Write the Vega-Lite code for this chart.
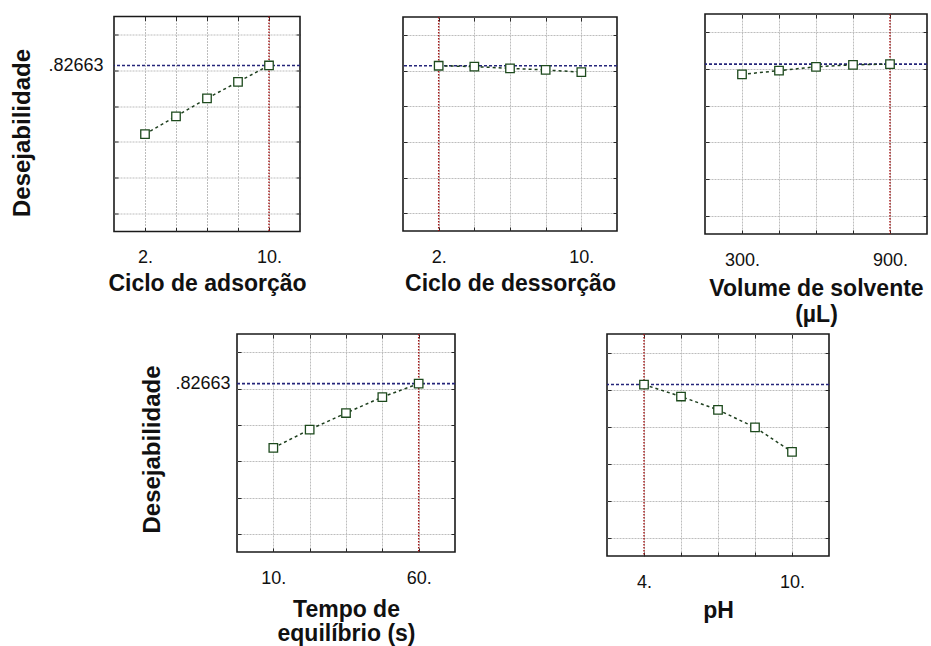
{
  "$schema": "https://vega.github.io/schema/vega-lite/v6.json",
  "background": "white",
  "padding": {"left": 10, "top": 12, "right": 2, "bottom": 2},
  "datasets": {
    "curves": [
      {"panel": "A", "x": 2, "d": 0.444},
      {"panel": "A", "x": 4, "d": 0.543},
      {"panel": "A", "x": 6, "d": 0.643},
      {"panel": "A", "x": 8, "d": 0.735},
      {"panel": "A", "x": 10, "d": 0.82663},
      {"panel": "B", "x": 2, "d": 0.82663},
      {"panel": "B", "x": 4, "d": 0.822},
      {"panel": "B", "x": 6, "d": 0.812},
      {"panel": "B", "x": 8, "d": 0.803},
      {"panel": "B", "x": 10, "d": 0.791},
      {"panel": "C", "x": 300, "d": 0.771},
      {"panel": "C", "x": 450, "d": 0.791},
      {"panel": "C", "x": 600, "d": 0.812},
      {"panel": "C", "x": 750, "d": 0.823},
      {"panel": "C", "x": 900, "d": 0.82663},
      {"panel": "D", "x": 10, "d": 0.473},
      {"panel": "D", "x": 22.5, "d": 0.574},
      {"panel": "D", "x": 35, "d": 0.665},
      {"panel": "D", "x": 47.5, "d": 0.753},
      {"panel": "D", "x": 60, "d": 0.82663},
      {"panel": "E", "x": 4, "d": 0.82663},
      {"panel": "E", "x": 5.5, "d": 0.762},
      {"panel": "E", "x": 7, "d": 0.69},
      {"panel": "E", "x": 8.5, "d": 0.595},
      {"panel": "E", "x": 10, "d": 0.463}
    ],
    "optima": [
      {"panel": "A", "xopt": 10, "dopt": 0.82663},
      {"panel": "B", "xopt": 2, "dopt": 0.82663},
      {"panel": "C", "xopt": 900, "dopt": 0.82663},
      {"panel": "D", "xopt": 60, "dopt": 0.82663},
      {"panel": "E", "xopt": 4, "dopt": 0.82663}
    ]
  },
  "spacing": 5,
  "vconcat": [
    {
      "spacing": 0,
      "bounds": "flush",
      "center": true,
      "hconcat": [
        {
          "width": 186, "height": 215,
          "resolve": {"axis": {"x": "independent", "y": "independent"}},
          "layer": [
            {"data": {"name": "optima"}, "transform": [{"filter": "datum.panel == 'A'"}],
             "mark": {"type": "rule", "color": "#a31515", "strokeDash": [1.5, 1.5], "strokeWidth": 1.4},
             "encoding": {"x": {"field": "xopt", "type": "quantitative", "scale": {"domain": [0, 12], "nice": false, "zero": false}, "axis": null}}},
            {"data": {"name": "optima"}, "transform": [{"filter": "datum.panel == 'A'"}],
             "mark": {"type": "rule", "color": "#25257a", "strokeDash": [3, 2], "strokeWidth": 1.6},
             "encoding": {"y": {"field": "dopt", "type": "quantitative", "scale": {"domain": [-0.1, 1.1], "nice": false, "zero": false}, "axis": null}}},
            {"data": {"name": "curves"}, "transform": [{"filter": "datum.panel == 'A'"}],
             "mark": {"type": "line", "color": "#1e3f1e", "strokeDash": [3, 3], "strokeWidth": 1.5},
             "encoding": {
               "x": {"field": "x", "type": "quantitative", "scale": {"domain": [0, 12], "nice": false, "zero": false},
                     "axis": {"orient": "bottom", "grid": true, "values": [2, 4, 6, 8, 10], "labelExpr": "datum.value == 2 || datum.value == 10 ? datum.value + '.' : ''", "title": "Ciclo de adsorção", "titlePadding": 6}},
               "y": {"field": "d", "type": "quantitative", "scale": {"domain": [-0.1, 1.1], "nice": false, "zero": false},
                     "axis": {"orient": "left", "grid": true, "values": [0, 0.2, 0.4, 0.6, 0.8, 0.82663, 1], "labelExpr": "datum.value == 0.82663 ? '.82663' : ''",
                              "gridOpacity": {"condition": {"test": "datum.value == 0.82663", "value": 0}, "value": 1},
                              "tickOpacity": {"condition": {"test": "datum.value == 0.82663", "value": 0}, "value": 1},
                              "title": "Desejabilidade", "titleFontSize": 24, "titleY": 116, "labelPadding": 15, "titlePadding": 13}}
             }},
            {"data": {"name": "curves"}, "transform": [{"filter": "datum.panel == 'A'"}],
             "mark": {"type": "point", "shape": "square", "filled": true, "fill": "white", "stroke": "#1d4a1d", "strokeWidth": 1.3, "size": 72, "opacity": 1},
             "encoding": {
               "x": {"field": "x", "type": "quantitative", "scale": {"domain": [0, 12], "nice": false, "zero": false},
                     "axis": {"orient": "top", "values": [2, 4, 6, 8, 10], "labels": false, "grid": false, "title": null}},
               "y": {"field": "d", "type": "quantitative", "scale": {"domain": [-0.1, 1.1], "nice": false, "zero": false},
                     "axis": {"orient": "right", "values": [0, 0.2, 0.4, 0.6, 0.8, 1], "labels": false, "grid": false, "title": null}}
             }}
          ]
        },
        {"width": 103, "height": 1, "view": {"stroke": null}, "data": {"values": []}, "mark": "point"},
        {
          "width": 214, "height": 214,
          "resolve": {"axis": {"x": "independent", "y": "independent"}},
          "layer": [
            {"data": {"name": "optima"}, "transform": [{"filter": "datum.panel == 'B'"}],
             "mark": {"type": "rule", "color": "#a31515", "strokeDash": [1.5, 1.5], "strokeWidth": 1.4},
             "encoding": {"x": {"field": "xopt", "type": "quantitative", "scale": {"domain": [0, 12], "nice": false, "zero": false}, "axis": null}}},
            {"data": {"name": "optima"}, "transform": [{"filter": "datum.panel == 'B'"}],
             "mark": {"type": "rule", "color": "#25257a", "strokeDash": [3, 2], "strokeWidth": 1.6},
             "encoding": {"y": {"field": "dopt", "type": "quantitative", "scale": {"domain": [-0.1, 1.1], "nice": false, "zero": false}, "axis": null}}},
            {"data": {"name": "curves"}, "transform": [{"filter": "datum.panel == 'B'"}],
             "mark": {"type": "line", "color": "#1e3f1e", "strokeDash": [3, 3], "strokeWidth": 1.5},
             "encoding": {
               "x": {"field": "x", "type": "quantitative", "scale": {"domain": [0, 12], "nice": false, "zero": false},
                     "axis": {"orient": "bottom", "grid": true, "values": [2, 4, 6, 8, 10], "labelExpr": "datum.value == 2 || datum.value == 10 ? datum.value + '.' : ''", "title": "Ciclo de dessorção", "titlePadding": 6}},
               "y": {"field": "d", "type": "quantitative", "scale": {"domain": [-0.1, 1.1], "nice": false, "zero": false},
                     "axis": {"orient": "left", "grid": true, "values": [0, 0.2, 0.4, 0.6, 0.8, 1], "labels": false, "title": null}}
             }},
            {"data": {"name": "curves"}, "transform": [{"filter": "datum.panel == 'B'"}],
             "mark": {"type": "point", "shape": "square", "filled": true, "fill": "white", "stroke": "#1d4a1d", "strokeWidth": 1.3, "size": 72, "opacity": 1},
             "encoding": {
               "x": {"field": "x", "type": "quantitative", "scale": {"domain": [0, 12], "nice": false, "zero": false},
                     "axis": {"orient": "top", "values": [2, 4, 6, 8, 10], "labels": false, "grid": false, "title": null}},
               "y": {"field": "d", "type": "quantitative", "scale": {"domain": [-0.1, 1.1], "nice": false, "zero": false},
                     "axis": {"orient": "right", "values": [0, 0.2, 0.4, 0.6, 0.8, 1], "labels": false, "grid": false, "title": null}}
             }}
          ]
        },
        {"width": 88, "height": 1, "view": {"stroke": null}, "data": {"values": []}, "mark": "point"},
        {
          "width": 222, "height": 220,
          "resolve": {"axis": {"x": "independent", "y": "independent"}},
          "layer": [
            {"data": {"name": "optima"}, "transform": [{"filter": "datum.panel == 'C'"}],
             "mark": {"type": "rule", "color": "#a31515", "strokeDash": [1.5, 1.5], "strokeWidth": 1.4},
             "encoding": {"x": {"field": "xopt", "type": "quantitative", "scale": {"domain": [150, 1050], "nice": false, "zero": false}, "axis": null}}},
            {"data": {"name": "optima"}, "transform": [{"filter": "datum.panel == 'C'"}],
             "mark": {"type": "rule", "color": "#25257a", "strokeDash": [3, 2], "strokeWidth": 1.6},
             "encoding": {"y": {"field": "dopt", "type": "quantitative", "scale": {"domain": [-0.1, 1.1], "nice": false, "zero": false}, "axis": null}}},
            {"data": {"name": "curves"}, "transform": [{"filter": "datum.panel == 'C'"}],
             "mark": {"type": "line", "color": "#1e3f1e", "strokeDash": [3, 3], "strokeWidth": 1.5},
             "encoding": {
               "x": {"field": "x", "type": "quantitative", "scale": {"domain": [150, 1050], "nice": false, "zero": false},
                     "axis": {"orient": "bottom", "grid": true, "values": [300, 450, 600, 750, 900], "labelExpr": "datum.value == 300 || datum.value == 900 ? datum.value + '.' : ''", "title": ["Volume de solvente", "(µL)"], "titlePadding": 8}},
               "y": {"field": "d", "type": "quantitative", "scale": {"domain": [-0.1, 1.1], "nice": false, "zero": false},
                     "axis": {"orient": "left", "grid": true, "values": [0, 0.2, 0.4, 0.6, 0.8, 1], "labels": false, "title": null}}
             }},
            {"data": {"name": "curves"}, "transform": [{"filter": "datum.panel == 'C'"}],
             "mark": {"type": "point", "shape": "square", "filled": true, "fill": "white", "stroke": "#1d4a1d", "strokeWidth": 1.3, "size": 72, "opacity": 1},
             "encoding": {
               "x": {"field": "x", "type": "quantitative", "scale": {"domain": [150, 1050], "nice": false, "zero": false},
                     "axis": {"orient": "top", "values": [300, 450, 600, 750, 900], "labels": false, "grid": false, "title": null}},
               "y": {"field": "d", "type": "quantitative", "scale": {"domain": [-0.1, 1.1], "nice": false, "zero": false},
                     "axis": {"orient": "right", "values": [0, 0.2, 0.4, 0.6, 0.8, 1], "labels": false, "grid": false, "title": null}}
             }}
          ]
        }
      ]
    },
    {
      "spacing": 0,
      "bounds": "flush",
      "hconcat": [
        {"width": 123, "height": 1, "view": {"stroke": null}, "data": {"values": []}, "mark": "point"},
        {
          "width": 218, "height": 218,
          "resolve": {"axis": {"x": "independent", "y": "independent"}},
          "layer": [
            {"data": {"name": "optima"}, "transform": [{"filter": "datum.panel == 'D'"}],
             "mark": {"type": "rule", "color": "#a31515", "strokeDash": [1.5, 1.5], "strokeWidth": 1.4},
             "encoding": {"x": {"field": "xopt", "type": "quantitative", "scale": {"domain": [-2.5, 72.5], "nice": false, "zero": false}, "axis": null}}},
            {"data": {"name": "optima"}, "transform": [{"filter": "datum.panel == 'D'"}],
             "mark": {"type": "rule", "color": "#25257a", "strokeDash": [3, 2], "strokeWidth": 1.6},
             "encoding": {"y": {"field": "dopt", "type": "quantitative", "scale": {"domain": [-0.1, 1.1], "nice": false, "zero": false}, "axis": null}}},
            {"data": {"name": "curves"}, "transform": [{"filter": "datum.panel == 'D'"}],
             "mark": {"type": "line", "color": "#1e3f1e", "strokeDash": [3, 3], "strokeWidth": 1.5},
             "encoding": {
               "x": {"field": "x", "type": "quantitative", "scale": {"domain": [-2.5, 72.5], "nice": false, "zero": false},
                     "axis": {"orient": "bottom", "grid": true, "values": [10, 22.5, 35, 47.5, 60], "labelExpr": "datum.value == 10 || datum.value == 60 ? datum.value + '.' : ''", "title": ["Tempo de", "equilíbrio (s)"], "titlePadding": 11, "titleLineHeight": 24}},
               "y": {"field": "d", "type": "quantitative", "scale": {"domain": [-0.1, 1.1], "nice": false, "zero": false},
                     "axis": {"orient": "left", "grid": true, "values": [0, 0.2, 0.4, 0.6, 0.8, 0.82663, 1], "labelExpr": "datum.value == 0.82663 ? '.82663' : ''",
                              "gridOpacity": {"condition": {"test": "datum.value == 0.82663", "value": 0}, "value": 1},
                              "tickOpacity": {"condition": {"test": "datum.value == 0.82663", "value": 0}, "value": 1},
                              "title": "Desejabilidade", "titleFontSize": 24, "titleY": 115, "labelPadding": 11, "titlePadding": 10}}
             }},
            {"data": {"name": "curves"}, "transform": [{"filter": "datum.panel == 'D'"}],
             "mark": {"type": "point", "shape": "square", "filled": true, "fill": "white", "stroke": "#1d4a1d", "strokeWidth": 1.3, "size": 72, "opacity": 1},
             "encoding": {
               "x": {"field": "x", "type": "quantitative", "scale": {"domain": [-2.5, 72.5], "nice": false, "zero": false},
                     "axis": {"orient": "top", "values": [10, 22.5, 35, 47.5, 60], "labels": false, "grid": false, "title": null}},
               "y": {"field": "d", "type": "quantitative", "scale": {"domain": [-0.1, 1.1], "nice": false, "zero": false},
                     "axis": {"orient": "right", "values": [0, 0.2, 0.4, 0.6, 0.8, 1], "labels": false, "grid": false, "title": null}}
             }}
          ]
        },
        {"width": 152, "height": 1, "view": {"stroke": null}, "data": {"values": []}, "mark": "point"},
        {
          "width": 222, "height": 222,
          "resolve": {"axis": {"x": "independent", "y": "independent"}},
          "layer": [
            {"data": {"name": "optima"}, "transform": [{"filter": "datum.panel == 'E'"}],
             "mark": {"type": "rule", "color": "#a31515", "strokeDash": [1.5, 1.5], "strokeWidth": 1.4},
             "encoding": {"x": {"field": "xopt", "type": "quantitative", "scale": {"domain": [2.5, 11.5], "nice": false, "zero": false}, "axis": null}}},
            {"data": {"name": "optima"}, "transform": [{"filter": "datum.panel == 'E'"}],
             "mark": {"type": "rule", "color": "#25257a", "strokeDash": [3, 2], "strokeWidth": 1.6},
             "encoding": {"y": {"field": "dopt", "type": "quantitative", "scale": {"domain": [-0.1, 1.1], "nice": false, "zero": false}, "axis": null}}},
            {"data": {"name": "curves"}, "transform": [{"filter": "datum.panel == 'E'"}],
             "mark": {"type": "line", "color": "#1e3f1e", "strokeDash": [3, 3], "strokeWidth": 1.5},
             "encoding": {
               "x": {"field": "x", "type": "quantitative", "scale": {"domain": [2.5, 11.5], "nice": false, "zero": false},
                     "axis": {"orient": "bottom", "grid": true, "values": [4, 5.5, 7, 8.5, 10], "labelExpr": "datum.value == 4 || datum.value == 10 ? datum.value + '.' : ''", "title": "pH", "titlePadding": 8}},
               "y": {"field": "d", "type": "quantitative", "scale": {"domain": [-0.1, 1.1], "nice": false, "zero": false},
                     "axis": {"orient": "left", "grid": true, "values": [0, 0.2, 0.4, 0.6, 0.8, 1], "labels": false, "title": null}}
             }},
            {"data": {"name": "curves"}, "transform": [{"filter": "datum.panel == 'E'"}],
             "mark": {"type": "point", "shape": "square", "filled": true, "fill": "white", "stroke": "#1d4a1d", "strokeWidth": 1.3, "size": 72, "opacity": 1},
             "encoding": {
               "x": {"field": "x", "type": "quantitative", "scale": {"domain": [2.5, 11.5], "nice": false, "zero": false},
                     "axis": {"orient": "top", "values": [4, 5.5, 7, 8.5, 10], "labels": false, "grid": false, "title": null}},
               "y": {"field": "d", "type": "quantitative", "scale": {"domain": [-0.1, 1.1], "nice": false, "zero": false},
                     "axis": {"orient": "right", "values": [0, 0.2, 0.4, 0.6, 0.8, 1], "labels": false, "grid": false, "title": null}}
             }}
          ]
        }
      ]
    }
  ],
  "config": {
    "font": "Liberation Sans",
    "view": {"stroke": "#1a1a1a", "strokeWidth": 1.6},
    "axis": {
      "domain": false,
      "grid": true,
      "gridColor": "#bdbdbd",
      "gridDash": [2, 1],
      "gridWidth": 1,
      "tickColor": "#2a2a2a",
      "tickSize": -4,
      "tickWidth": 1,
      "labelFont": "Liberation Sans",
      "labelFontSize": 18,
      "labelColor": "#111111",
      "labelOverlap": false,
      "labelFlush": false,
      "labelPadding": 21,
      "titleFont": "Liberation Sans",
      "titleFontSize": 23,
      "titleFontWeight": "bold",
      "titleColor": "#111111",
      "titleLineHeight": 26
    }
  }
}
